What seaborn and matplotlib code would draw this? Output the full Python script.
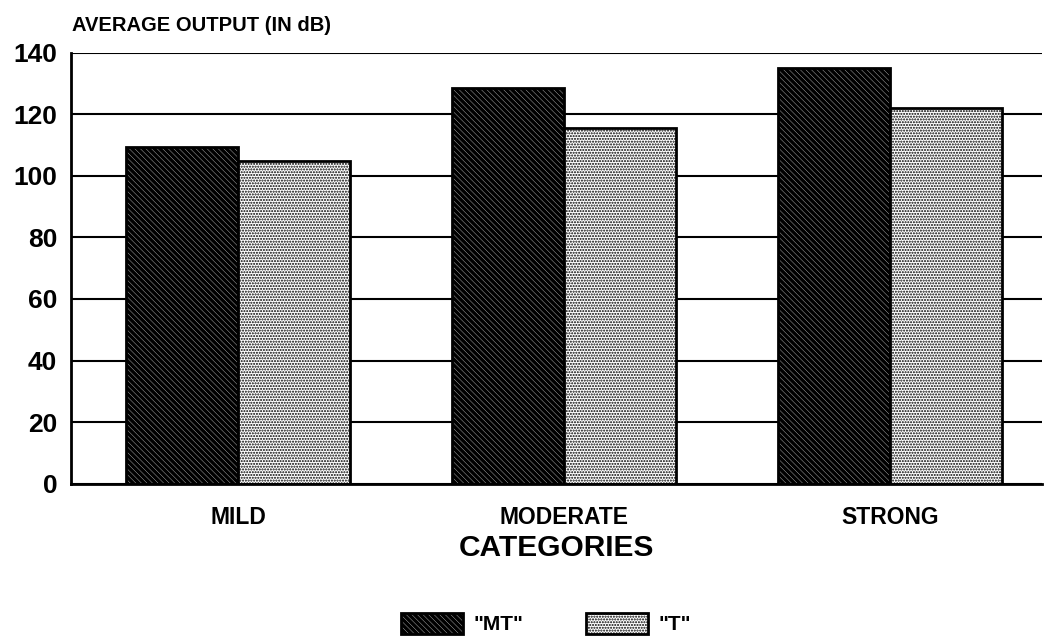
import pandas as pd
import matplotlib.pyplot as plt
import seaborn as sns
from matplotlib.patches import Patch

categories = ["MILD", "MODERATE", "STRONG"]
mt_values = [109.5, 128.5, 135]
t_values = [105, 115.5, 122]
series_names = ['"MT"', '"T"']
y_ticks = [0, 20, 40, 60, 80, 100, 120, 140]

df = pd.DataFrame({
    "category": categories * 2,
    "series": [series_names[0]] * 3 + [series_names[1]] * 3,
    "value": mt_values + t_values,
})

sns.set_style("white")
plt.rcParams['font.family'] = ['Liberation Sans', 'DejaVu Sans']
plt.rcParams['font.weight'] = 'bold'
plt.rcParams['text.color'] = 'black'
plt.rcParams['xtick.color'] = 'black'
plt.rcParams['ytick.color'] = 'black'
plt.rcParams['axes.labelcolor'] = 'black'
plt.rcParams['hatch.linewidth'] = 1.8

fig = plt.figure(figsize=(10.46, 6.44), dpi=100)
ax = fig.add_axes([0.068, 0.249, 0.928, 0.669])

# grid lines behind bars
ax.set_axisbelow(True)
ax.yaxis.grid(True, color="black", linewidth=1.5)

sns.barplot(data=df, x="category", y="value", hue="series", order=categories,
            hue_order=series_names, width=0.687, palette=["white", "white"],
            edgecolor="black", linewidth=2, legend=False, ax=ax)

hatches = {series_names[0]: "\\" * 6, series_names[1]: "." * 6}
hatch_lw = {series_names[0]: 2.6, series_names[1]: 1.0}
for container, name in zip(ax.containers, series_names):
    for bar in container:
        bar.set_hatch(hatches[name])
        if hasattr(bar, "set_hatch_linewidth"):
            bar.set_hatch_linewidth(hatch_lw[name])

ax.set_ylim(0, 140)
ax.set_xlim(-0.512, 2.466)
ax.set_yticks(y_ticks)
ax.tick_params(axis="y", labelsize=19, length=0, pad=10)
ax.tick_params(axis="x", labelsize=16.5, length=0, pad=16)
for lbl in ax.get_xticklabels() + ax.get_yticklabels():
    lbl.set_fontweight("bold")

for side in ["top", "right"]:
    ax.spines[side].set_visible(False)
for side in ["left", "bottom"]:
    ax.spines[side].set_color("black")
    ax.spines[side].set_linewidth(2)

ax.set_ylabel("")
ax.set_xlabel("CATEGORIES", fontsize=21.5, fontweight="bold", labelpad=4)
fig.text(0.069, 0.945, "AVERAGE OUTPUT (IN dB)", fontsize=14.5, fontweight="bold",
         ha="left", va="bottom")

handles = [Patch(facecolor="white", edgecolor="black", hatch=hatches[n], linewidth=2)
           for n in series_names]
leg = fig.legend(handles, series_names, loc="center", bbox_to_anchor=(0.522, 0.032),
                 ncol=2, frameon=False, handlelength=3.0, handleheight=1.2,
                 columnspacing=3, handletextpad=0.5, prop={"weight": "bold", "size": 15})
for h, n in zip(leg.get_patches(), series_names):
    if hasattr(h, "set_hatch_linewidth"):
        h.set_hatch_linewidth(hatch_lw[n])

plt.savefig("out.png", dpi=100)
plt.close()
